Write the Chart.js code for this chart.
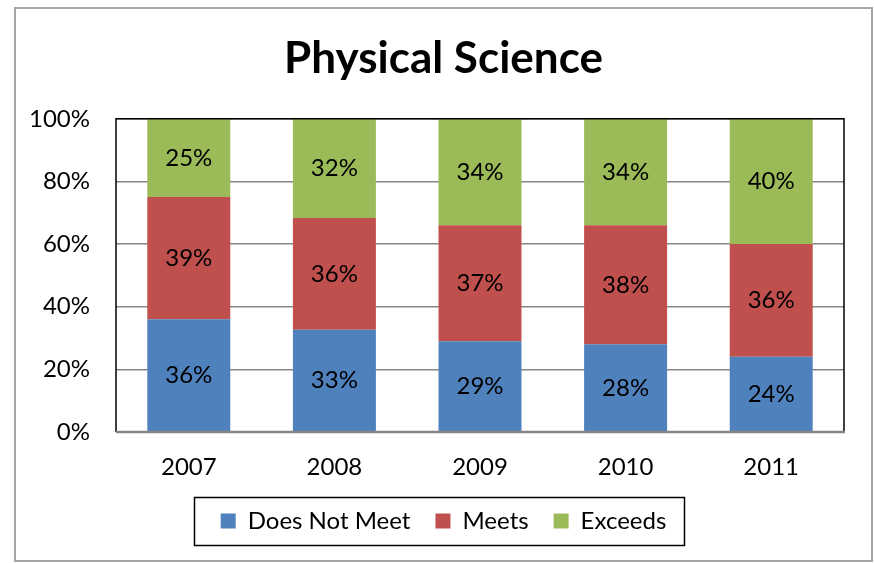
<!DOCTYPE html>
<html>
<head>
<meta charset="utf-8">
<script src="https://cdn.jsdelivr.net/npm/chart.js@4/dist/chart.umd.min.js"></script>
<style>
  html, body { margin: 0; padding: 0; background: #fff; }
  #wrap { width: 874px; height: 563px; position: relative; }
</style>
</head>
<body>
<div id="wrap"><canvas id="results" width="874" height="563"></canvas></div>
<script>
var years = ['2007', '2008', '2009', '2010', '2011'];
var doesNotMeet = [36, 33, 29, 28, 24];
var meets = [39, 36, 37, 38, 36];
var exceeds = [25, 32, 34, 34, 40];
var yTicks = [0, 20, 40, 60, 80, 100];

var seriesNames = ['Does Not Meet', 'Meets', 'Exceeds'];
var seriesColors = ['#4F81BD', '#C0504D', '#9BBB59'];
var allSeries = [doesNotMeet, meets, exceeds];

// 100% stacked: each column is scaled so it fills the whole axis
var totals = years.map(function(_, i){
  return doesNotMeet[i] + meets[i] + exceeds[i];
});

var datasets = allSeries.map(function(values, s){
  return {
    label: seriesNames[s],
    raw: values,
    data: values.map(function(v, i){ return v / totals[i] * 100; }),
    backgroundColor: seriesColors[s],
    borderWidth: 0,
    categoryPercentage: 1,
    barPercentage: 0.57
  };
});

var fontFamily = 'Lato, "Open Sans", sans-serif';

var frame = {
  id: 'frame',
  beforeDraw: function(chart){
    var ctx = chart.ctx;
    ctx.save();
    ctx.strokeStyle = '#a6a6a6';
    ctx.lineWidth = 2;
    ctx.strokeRect(15, 8, 857, 553);
    ctx.restore();
  },
  afterDraw: function(chart){
    var ctx = chart.ctx;
    var a = chart.chartArea;
    ctx.save();
    // plot area border
    ctx.strokeStyle = '#000';
    ctx.lineWidth = 1.5;
    ctx.beginPath();
    ctx.moveTo(a.left, a.bottom);
    ctx.lineTo(a.left, a.top);
    ctx.lineTo(a.right, a.top);
    ctx.lineTo(a.right, a.bottom);
    ctx.stroke();
    ctx.strokeStyle = '#868686';
    ctx.lineWidth = 2.5;
    ctx.beginPath();
    ctx.moveTo(a.left, a.bottom);
    ctx.lineTo(a.right + 1, a.bottom);
    ctx.stroke();

    // legend box
    var boxes = chart.legend.legendHitBoxes;
    if (boxes && boxes.length) {
      var l = Infinity, r = -Infinity, t = Infinity, b = -Infinity;
      boxes.forEach(function(h){
        l = Math.min(l, h.left); r = Math.max(r, h.left + h.width);
        t = Math.min(t, h.top); b = Math.max(b, h.top + h.height);
      });
      ctx.strokeStyle = '#000';
      ctx.lineWidth = 1.5;
      ctx.strokeRect(Math.round(l - 27) + 0.5, Math.round(t - 12) + 0.5,
                     Math.round(r - l + 44), Math.round(b - t + 24));
    }
    ctx.restore();
  }
};

var valueLabels = {
  id: 'valueLabels',
  afterDatasetsDraw: function(chart){
    var ctx = chart.ctx;
    ctx.save();
    ctx.font = '24px ' + fontFamily;
    ctx.fillStyle = '#000';
    ctx.textAlign = 'center';
    ctx.textBaseline = 'middle';
    chart.data.datasets.forEach(function(ds, d){
      chart.getDatasetMeta(d).data.forEach(function(bar, i){
        ctx.fillText(ds.raw[i] + '%', bar.x, (bar.y + bar.base) / 2);
      });
    });
    ctx.restore();
  }
};

Chart.defaults.font.family = fontFamily;
Chart.defaults.color = '#000';

var ctx = document.getElementById('results');
var myChart = new Chart(ctx, {
  type: 'bar',
  data: { labels: years, datasets: datasets },
  plugins: [frame, valueLabels],
  options: {
    responsive: false,
    animation: false,
    layout: { padding: { left: 14, right: 1, top: 0, bottom: 20 } },
    plugins: {
      tooltip: { enabled: false },
      title: {
        display: true,
        text: 'Physical Science',
        font: { size: 44, weight: 'bold' },
        color: '#000',
        padding: { top: 32, bottom: 34 }
      },
      legend: {
        position: 'bottom',
        labels: {
          boxWidth: 15,
          boxHeight: 15,
          padding: 25,
          font: { size: 24 },
          color: '#000'
        }
      }
    },
    scales: {
      x: {
        stacked: true,
        grid: { display: false },
        border: { display: false },
        ticks: { padding: 13, font: { size: 24 } },
        afterFit: function(scale){ scale.height = 52; }
      },
      y: {
        stacked: true,
        min: 0,
        max: 100,
        afterBuildTicks: function(scale){
          scale.ticks = yTicks.map(function(v){ return { value: v }; });
        },
        ticks: {
          padding: 26,
          font: { size: 24 },
          callback: function(v){ return v + '%'; }
        },
        grid: { color: '#868686', lineWidth: 1.5, drawTicks: false },
        border: { display: false },
        afterFit: function(scale){ scale.width = 102; }
      },
      yRight: {
        position: 'right',
        display: true,
        grid: { display: false },
        border: { display: false },
        ticks: { display: false },
        afterFit: function(scale){ scale.width = 29; }
      }
    }
  }
});
</script>
</body>
</html>
